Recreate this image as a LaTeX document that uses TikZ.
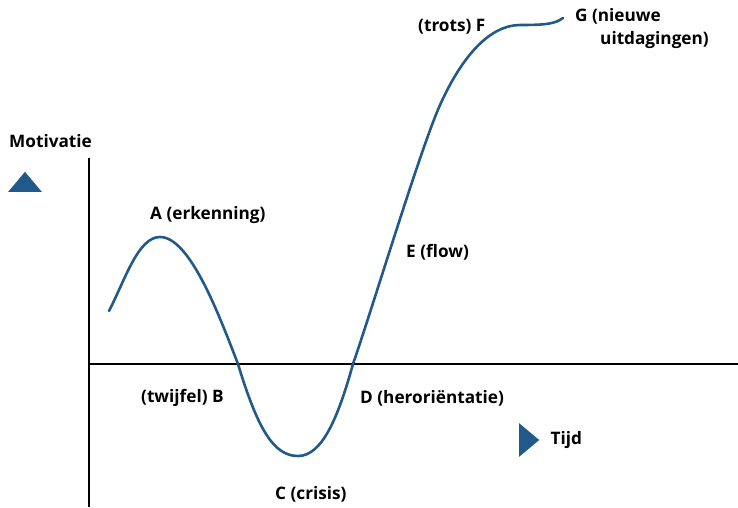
\documentclass[tikz,border=0pt]{standalone}
\usepackage{fontspec}
\setmainfont{Open Sans}
\usepackage{tikz}
\usetikzlibrary{positioning,shapes.geometric}
\definecolor{motivblue}{HTML}{215A8A}

\begin{document}
\begin{tikzpicture}[x=1pt,y=-1pt,
    lbl/.style={font=\fontsize{17.2}{23}\selectfont\bfseries,inner sep=0pt,anchor=west},
    axis/.style={black,line width=1.6pt},
    curve/.style={motivblue,line width=2.6pt,line cap=round},
    tri/.style={fill=motivblue,draw=none,isosceles triangle,isosceles triangle apex angle=80,
                inner sep=0pt,minimum size=20pt},
  ]
    \useasboundingbox (0,0) rectangle (738,507);

    % axes
    \coordinate (origin) at (89,364);
    \coordinate (ytop) at (89,158);
    \coordinate (ybot) at (89,507);
    \coordinate (xend) at (738,364);
    \draw[axis] (ytop) -- (ybot);
    \draw[axis] (origin) -- (xend);

    \node[lbl] (motiv) at (9,141) {Motivatie};
    \node[tri,shape border rotate=90] (uptri) at (25,184) {};
    \node[tri] (righttri) at (527,440) {};
    \node[lbl,right=11pt of righttri] (tijd) {Tijd};

    % the curve
    \coordinate (start) at (109,311);
    \coordinate (peak) at (160,237);
    \coordinate (down) at (238,364);
    \coordinate (trough) at (298,456);
    \coordinate (up) at (353,364);
    \coordinate (steep) at (440,105);
    \coordinate (flat) at (520,25);
    \coordinate (stop) at (563,18);
    \draw[curve] (start) .. controls (125,280) and (138,237) .. (peak)
      .. controls (190,237) and (219,315) .. (down)
      .. controls (258,430) and (274,456) .. (trough)
      .. controls (322,456) and (338,418) .. (up)
      .. controls (375,300) and (420,150) .. (steep)
      .. controls (462,56) and (490,25) .. (flat)
      .. controls (545,25) and (555,24) .. (stop);

    \node[lbl] (A) at (150,215) {A (erkenning)};
    \node[lbl] (B) at (141,398) {(twijfel) B};
    \node[lbl] (C) at (275,494) {C (crisis)};
    \node[lbl] (D) at (360,398) {D (heroriëntatie)};
    \node[lbl] (E) at (406,252) {E (flow)};
    \node[lbl] (F) at (418,27) {(trots) F};
    \node[lbl,align=left,anchor=north west] (G) at (575,8) {G (nieuwe\\\hspace*{25pt}uitdagingen)};
  \end{tikzpicture}
\end{document}
